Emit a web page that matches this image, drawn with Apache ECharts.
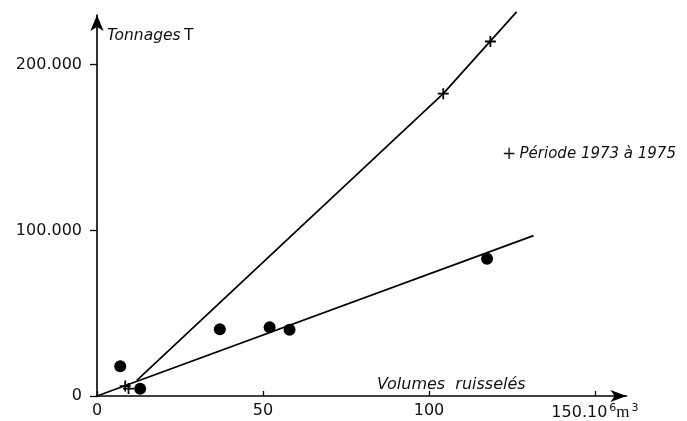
<!DOCTYPE html>
<html><head><meta charset="utf-8">
<script src="https://cdn.jsdelivr.net/npm/echarts@6/dist/echarts.min.js"></script>
<style>html,body{margin:0;padding:0;background:#fff}#c{width:687px;height:421px}</style>
</head><body><div id="c"></div>
<script>
// ---- data ----
const xTickValues = [0, 50, 100, 150];
const yTickValues = [0, 100000, 200000];
// filled circles
const dotX = [7, 13, 37, 52, 58, 117.5];
const dotY = [18000, 4400, 40300, 41500, 40000, 82800];
// crosses : période 1973 à 1975
const crossX = [8.5, 9.5, 104.3, 118.5];
const crossY = [6000, 4500, 182500, 214000];
// fitted lines
const upperX = [12, 104.3, 126.4];
const upperY = [9400, 182500, 231900];
const lowerX = [0, 131.5];
const lowerY = [0, 96800];

const zip = (a, b) => a.map((v, i) => [v, b[i]]);
const FONT = 'DejaVu Sans';
const INK = '#111';

const chart = echarts.init(document.getElementById('c'), null, {renderer: 'canvas'});
chart.setOption({
  animation: false,
  backgroundColor: '#fff',
  grid: {left: 97, top: 15, right: 60.5, bottom: 22, containLabel: false},
  xAxis: {
    type: 'value', min: 0, max: 159.5,
    splitLine: {show: false},
    axisLine: {show: true, onZero: false, symbol: ['none', 'arrow'], symbolSize: [9, 16],
      lineStyle: {color: '#000', width: 1.6}},
    axisTick: {show: true, inside: true, length: 5, customValues: xTickValues,
      lineStyle: {color: '#000', width: 1.3}},
    axisLabel: {
      show: true, margin: 7, customValues: xTickValues,
      color: INK, fontFamily: FONT, fontSize: 16,
      formatter: v => v === 150 ? '{n|150.10}{s|6}{m|m}{s|3}' : '{n|' + v + '}',
      rich: {
        n: {fontFamily: FONT, fontSize: 16, color: INK},
        s: {fontFamily: FONT, fontSize: 11, color: INK, padding: [0, 0, 8, 2]},
        m: {fontFamily: 'Liberation Serif', fontSize: 17, color: INK}
      }
    }
  },
  yAxis: {
    type: 'value', min: 0, max: 230000,
    splitLine: {show: false},
    axisLine: {show: true, onZero: false, symbol: ['none', 'arrow'], symbolSize: [10, 16],
      lineStyle: {color: '#000', width: 1.6}},
    axisTick: {show: true, inside: false, length: 7, customValues: yTickValues,
      lineStyle: {color: '#000', width: 1.3}},
    axisLabel: {
      show: true, margin: 15, customValues: yTickValues,
      color: INK, fontFamily: FONT, fontSize: 16,
      formatter: v => v === 0 ? '0' : (v / 1000).toFixed(0) + '.000'
    }
  },
  graphic: [
    {type: 'text', left: 107, top: 28, z: 10,
      style: {text: '{i|Tonnages} {n|T}', fill: INK,
        rich: {i: {fontFamily: FONT, fontStyle: 'italic', fontSize: 15.5, fill: INK},
               n: {fontFamily: FONT, fontSize: 15.5, fill: INK}}}},
    {type: 'text', left: 377, top: 377, z: 10,
      style: {text: 'Volumes  ruisselés', fill: INK, fontFamily: FONT, fontStyle: 'italic', fontSize: 16}},
    {type: 'text', left: 502, top: 146, z: 10,
      style: {text: '{n|+} {i|Période 1973 à 1975}', fill: INK,
        rich: {i: {fontFamily: FONT, fontStyle: 'italic', fontSize: 15, fill: INK},
               n: {fontFamily: FONT, fontSize: 17, fill: INK}}}}
  ],
  series: [
    {type: 'line', data: zip(upperX, upperY), symbol: 'none', clip: false, z: 3,
      lineStyle: {color: '#000', width: 1.7}},
    {type: 'line', data: zip(lowerX, lowerY), symbol: 'none', clip: false, z: 3,
      lineStyle: {color: '#000', width: 1.7}},
    {type: 'scatter', data: zip(dotX, dotY), symbol: 'circle', symbolSize: 12, clip: false, z: 4,
      itemStyle: {color: '#000', opacity: 1}},
    {type: 'scatter', data: zip(crossX, crossY), symbol: 'path://M0,5L10,5M5,0L5,10', symbolSize: 11,
      clip: false, z: 5,
      itemStyle: {color: 'rgba(0,0,0,0)', borderColor: '#000', borderWidth: 1.8, opacity: 1}}
  ]
});
</script></body></html>
